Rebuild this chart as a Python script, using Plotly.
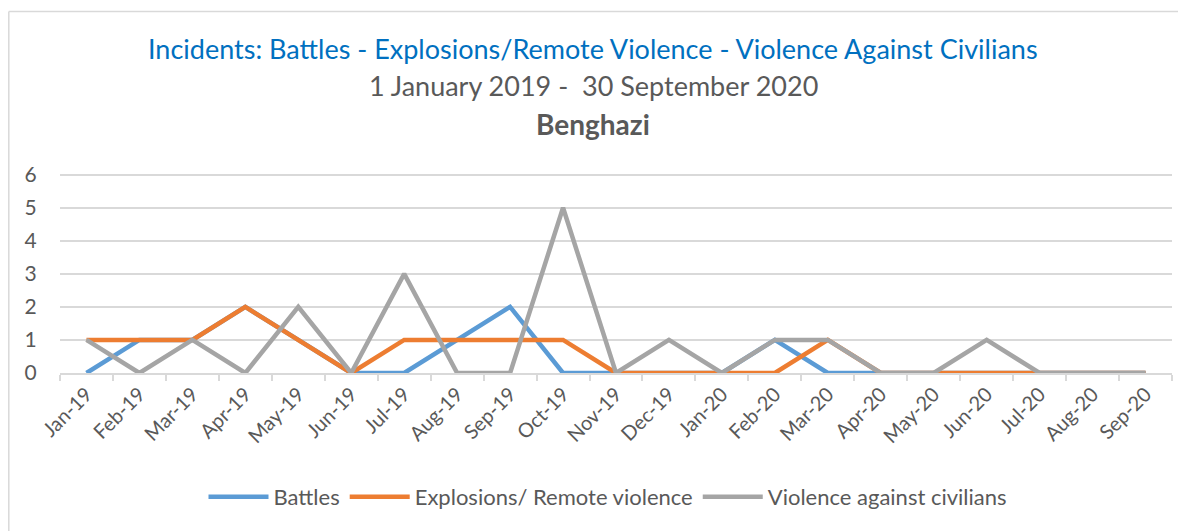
import plotly.graph_objects as go

months = ["Jan-19","Feb-19","Mar-19","Apr-19","May-19","Jun-19","Jul-19","Aug-19","Sep-19",
          "Oct-19","Nov-19","Dec-19","Jan-20","Feb-20","Mar-20","Apr-20","May-20","Jun-20",
          "Jul-20","Aug-20","Sep-20"]
battles = [0,1,1,2,1,0,0,1,2,0,0,0,0,1,0,0,0,0,0,0,0]
explosions = [1,1,1,2,1,0,1,1,1,1,0,0,0,0,1,0,0,0,0,0,0]
civilians = [1,0,1,0,2,0,3,0,0,5,0,1,0,1,1,0,0,1,0,0,0]
yticks = [0,1,2,3,4,5,6]
title1 = "Incidents: Battles - Explosions/Remote Violence - Violence Against Civilians"
title2 = "1 January 2019 -  30 September 2020"
title3 = "Benghazi"

# the page body has an 8px margin, so the figure is drawn 8px right/down
OFF = 8
W, H = 1186 - OFF, 531 - OFF
ml, mr, mt, mb = 60 - OFF, 14, 173 - OFF, 158
pw = W - ml - mr
ph = H - mt - mb
FONT = "Lato, Open Sans, sans-serif"

fig = go.Figure()
for name, vals, col in [("Battles", battles, "#5B9BD5"),
                        ("Explosions/ Remote violence", explosions, "#ED7D31"),
                        ("Violence against civilians", civilians, "#A5A5A5")]:
    fig.add_trace(go.Scatter(x=months, y=vals, name=name, mode="lines",
                             line=dict(color=col, width=4.5)))

def px_x(x):  # screen x -> paper
    return (x - OFF - ml) / pw

def px_y(y):  # screen y -> paper
    return (H - mb - (y - OFF)) / ph

# chart frame: top and left edges
fig.add_shape(type="line", xref="paper", yref="paper", x0=px_x(8.8), x1=px_x(1190),
              y0=px_y(11.5), y1=px_y(11.5), line=dict(color="#D9D9D9", width=1.5))
fig.add_shape(type="line", xref="paper", yref="paper", x0=px_x(8.8), x1=px_x(8.8),
              y0=px_y(11.5), y1=px_y(540), line=dict(color="#D9D9D9", width=1.5))

for txt, yc, col, size in [(title1, 48, "#0070C0", 27),
                           (title2, 85, "#595959", 27),
                           ("<b>" + title3 + "</b>", 124, "#595959", 28)]:
    fig.add_annotation(text=txt, xref="paper", yref="paper", x=px_x(593), y=px_y(yc),
                       xanchor="center", yanchor="middle", showarrow=False,
                       font=dict(size=size, color=col, family=FONT))

fig.update_layout(
    width=W, height=H,
    margin=dict(l=ml, r=mr, t=mt, b=mb),
    paper_bgcolor="white", plot_bgcolor="white",
    font=dict(family=FONT, color="#595959"),
    xaxis=dict(type="category", range=[-0.5, 20.5], showgrid=False, showline=True,
               linecolor="#D9D9D9", linewidth=1.5, automargin=False,
               ticks="outside", tickson="boundaries", ticklen=6, tickcolor="#D9D9D9", tickwidth=1.5,
               tickangle=-45, tickfont=dict(size=20, color="#595959")),
    yaxis=dict(range=[0, 6.05], tickvals=yticks, showgrid=True, gridcolor="#D9D9D9", gridwidth=1.5,
               zeroline=False, showline=False, automargin=False,
               ticks="outside", ticklen=18, tickcolor="rgba(0,0,0,0)",
               tickfont=dict(size=21, color="#595959")),
    legend=dict(orientation="h", x=px_x(608), xanchor="center", y=px_y(497), yanchor="middle",
                font=dict(size=22, color="#595959"), itemwidth=60),
    showlegend=True,
)
fig.write_html("out.html")
